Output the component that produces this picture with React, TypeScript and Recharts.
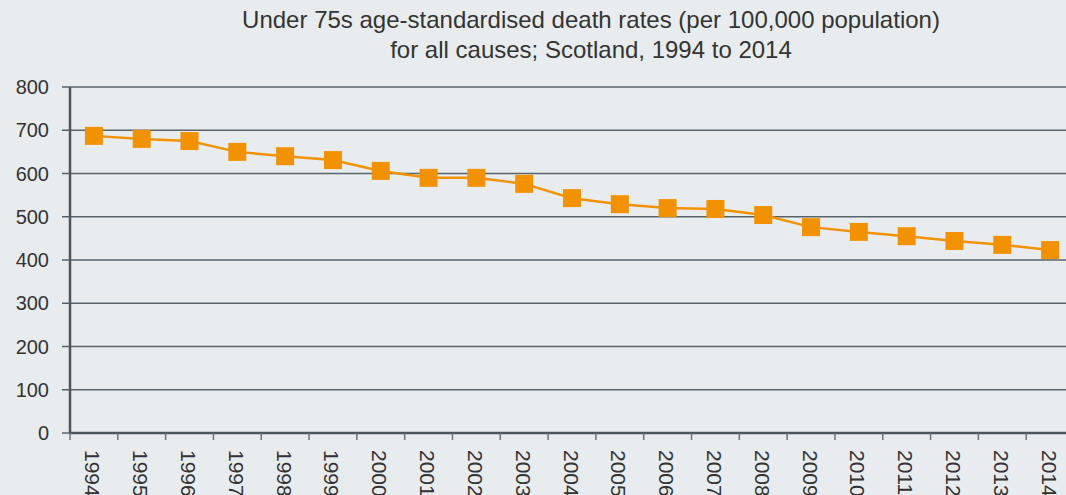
import { LineChart, Line, XAxis, YAxis, CartesianGrid } from 'recharts';

const years = [
  '1994', '1995', '1996', '1997', '1998', '1999', '2000', '2001', '2002', '2003', '2004',
  '2005', '2006', '2007', '2008', '2009', '2010', '2011', '2012', '2013', '2014',
];
const rates = [687, 680, 675, 650, 640, 631, 606, 590, 590, 576, 543, 529, 520, 518, 504, 476, 465, 455, 444, 435, 423];
const yTicks = [0, 100, 200, 300, 400, 500, 600, 700, 800];

const data = years.map((year, i) => ({ year, rate: rates[i] }));

const CHART_W = 1100;
const CHART_H = 495;
const MARGIN = { top: 87, right: 26, left: 8, bottom: 0 };
const Y_AXIS_W = 62;
const BAND = (CHART_W - MARGIN.left - MARGIN.right - Y_AXIS_W) / years.length;

const ORANGE = '#f39200';
const FONT = '"Liberation Sans", Arial, sans-serif';

function SquareDot(props: any) {
  const { cx, cy } = props;
  if (cx == null || cy == null) return null;
  return <rect x={cx - 9} y={cy - 9} width={18} height={18} fill={ORANGE} />;
}

function YearTick(props: any) {
  const { x, y, payload } = props;
  const left = x - BAND / 2;
  return (
    <g>
      <line x1={left} y1={y} x2={left} y2={y + 7} stroke="#6b747a" strokeWidth={1.5} />
      <text
        x={0}
        y={0}
        transform={`translate(${x - 1}, ${y + 17}) rotate(90)`}
        textAnchor="start"
        dominantBaseline="central"
        fill="#333"
        fontSize={21}
        fontFamily={FONT}
      >
        {payload.value}
      </text>
    </g>
  );
}

export default function App() {
  return (
    <div
      style={{
        position: 'fixed',
        left: 0,
        top: 0,
        width: 1066,
        height: 495,
        overflow: 'hidden',
        background: '#e9ecef',
        fontFamily: FONT,
      }}
    >
      <div
        style={{
          position: 'absolute',
          left: 91,
          width: 1000,
          top: 5,
          textAlign: 'center',
          color: '#333',
          fontSize: 24,
          lineHeight: '30px',
        }}
      >
        Under 75s age-standardised death rates (per 100,000 population)
        <br />
        for all causes; Scotland, 1994 to 2014
      </div>
      <div style={{ position: 'absolute', left: 0, top: 0 }}>
        <LineChart width={CHART_W} height={CHART_H} data={data} margin={MARGIN}>
          <CartesianGrid vertical={false} stroke="#59636b" strokeWidth={1.5} />
          <XAxis
            dataKey="year"
            scale="band"
            interval={0}
            height={62}
            tickSize={0}
            tickMargin={0}
            tickLine={false}
            axisLine={{ stroke: '#4b555c', strokeWidth: 2.5 }}
            tick={<YearTick />}
          />
          <YAxis
            domain={[0, 800]}
            ticks={yTicks}
            width={Y_AXIS_W}
            tickSize={8}
            tickMargin={13}
            axisLine={{ stroke: '#4b555c', strokeWidth: 2.5 }}
            tickLine={{ stroke: '#59636b', strokeWidth: 1.5 }}
            tick={{ fill: '#333', fontSize: 20, fontFamily: FONT }}
          />
          <Line
            type="linear"
            dataKey="rate"
            stroke={ORANGE}
            strokeWidth={2.5}
            dot={<SquareDot />}
            activeDot={false}
            isAnimationActive={false}
          />
        </LineChart>
      </div>
    </div>
  );
}
